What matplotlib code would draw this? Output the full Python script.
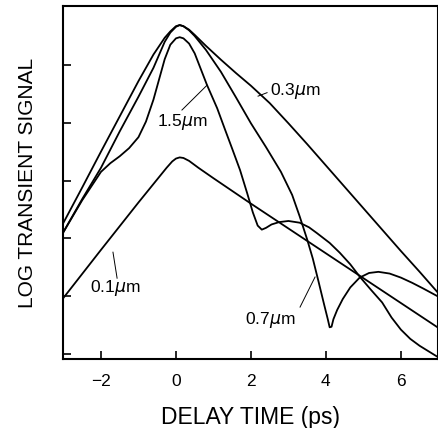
import matplotlib
matplotlib.use("Agg")
import matplotlib.pyplot as plt

plt.rcParams['font.family'] = ['Liberation Sans', 'DejaVu Sans']
plt.rcParams['mathtext.fontset'] = 'dejavusans'

# delay (ps) and log signal for each sample thickness
x_03 = [-3, -2.5, -2, -1.5, -1, -0.6, -0.3, -0.15, 0, 0.1, 0.2, 0.35, 0.5, 0.8, 1.2, 1.6, 2,
        2.5, 3, 3.5, 4, 4.5, 5, 5.5, 6, 6.5, 7]
y_03 = [2.27, 2.88, 3.5, 4.11, 4.72, 5.18, 5.47, 5.58, 5.67, 5.69, 5.67, 5.61, 5.52, 5.33, 5.09,
        4.86, 4.64, 4.34, 3.99, 3.63, 3.26, 2.89, 2.52, 2.15, 1.78, 1.42, 1.05]

x_07 = [-3, -2.5, -2, -1.5, -1, -0.6, -0.3, -0.15, 0, 0.1, 0.2, 0.35, 0.5, 0.8, 1.2, 1.6, 2.0,
        2.4, 2.8, 3.1, 3.3, 3.5, 3.65, 3.8, 3.95, 4.05, 4.1, 4.15, 4.2, 4.3, 4.45, 4.65, 4.9,
        5.15, 5.4, 5.7, 6.0, 6.3, 6.6, 7.0]
y_07 = [2.11, 2.68, 3.22, 3.85, 4.45, 4.95, 5.4, 5.56, 5.66, 5.69, 5.67, 5.6, 5.5, 5.26, 4.88,
        4.44, 3.99, 3.58, 3.15, 2.75, 2.38, 1.98, 1.65, 1.26, 0.86, 0.6, 0.46, 0.47, 0.6, 0.76,
        0.95, 1.15, 1.32, 1.4, 1.42, 1.39, 1.32, 1.23, 1.13, 0.99]

x_15 = [-3, -2.5, -2, -1.75, -1.5, -1.25, -1.0, -0.8, -0.6, -0.45, -0.3, -0.15, 0, 0.1, 0.2,
        0.35, 0.5, 0.83, 1.1, 1.31, 1.5, 1.71, 1.9, 2.05, 2.18, 2.29, 2.4, 2.55, 2.75, 3.0, 3.3,
        3.55, 3.76, 4.1, 4.37, 4.65, 4.91, 5.2, 5.5, 5.75, 6.0, 6.25, 6.5, 6.75, 7.0]
y_15 = [2.11, 2.66, 3.15, 3.3, 3.42, 3.56, 3.75, 4.02, 4.4, 4.75, 5.1, 5.35, 5.46, 5.48, 5.46,
        5.37, 5.2, 4.65, 4.25, 3.88, 3.55, 3.18, 2.78, 2.45, 2.22, 2.15, 2.18, 2.24, 2.28, 2.30,
        2.27, 2.19, 2.09, 1.92, 1.75, 1.55, 1.33, 1.11, 0.89, 0.63, 0.42, 0.26, 0.14, 0.04, -0.06]

x_01 = [-3, -2, -1, -0.5, -0.25, -0.1, 0, 0.1, 0.2, 0.35, 0.6, 1, 2, 3, 4, 5, 6, 7]
y_01 = [0.97, 1.8, 2.62, 3.02, 3.22, 3.33, 3.38, 3.40, 3.39, 3.34, 3.22, 3.04, 2.60, 2.17, 1.74,
        1.31, 0.88, 0.45]

xticks = [-2, 0, 2, 4, 6]
xticklabels = ['\u22122', '0', '2', '4', '6']
yticks = [0, 1, 2, 3, 4, 5]

fig = plt.figure(figsize=(4.39, 4.28), dpi=100)
ax = fig.add_axes([0.1446, 0.161, 0.854, 0.825])

for xs, ys in [(x_03, y_03), (x_07, y_07), (x_15, y_15), (x_01, y_01)]:
    ax.plot(xs, ys, color='black', lw=1.3, solid_joinstyle='round')

ax.set_xlim(-3, 7)
ax.set_ylim(-0.09, 6.02)
ax.set_xticks(xticks)
ax.set_xticklabels(xticklabels)
ax.set_yticks(yticks)
ax.set_yticklabels([])
ax.tick_params(direction='in', length=6, width=1.2, labelsize=12.5, pad=11)
for s in ax.spines.values():
    s.set_linewidth(1.5)

ax.set_xlabel('DELAY TIME (ps)', fontsize=16.5, labelpad=12)
ax.set_ylabel('LOG TRANSIENT SIGNAL', fontsize=15, labelpad=8)

# curve labels with leader lines
lab = dict(fontsize=12.5, va='center')
ax.text(2.51, 4.55, '0.3$\\mu$m', **lab)
ax.plot([2.19, 2.43], [4.46, 4.52], color='black', lw=0.7)
ax.text(-0.51, 4.01, '1.5$\\mu$m', **lab)
ax.plot([0.16, 0.83], [4.22, 4.65], color='black', lw=0.7)
ax.text(1.84, 0.59, '0.7$\\mu$m', **lab)
ax.plot([3.31, 3.71], [0.81, 1.33], color='black', lw=0.7)
ax.text(-2.29, 1.14, '0.1$\\mu$m', **lab)
ax.plot([-1.68, -1.57], [1.76, 1.31], color='black', lw=0.7)

fig.savefig('out.png', dpi=100)
